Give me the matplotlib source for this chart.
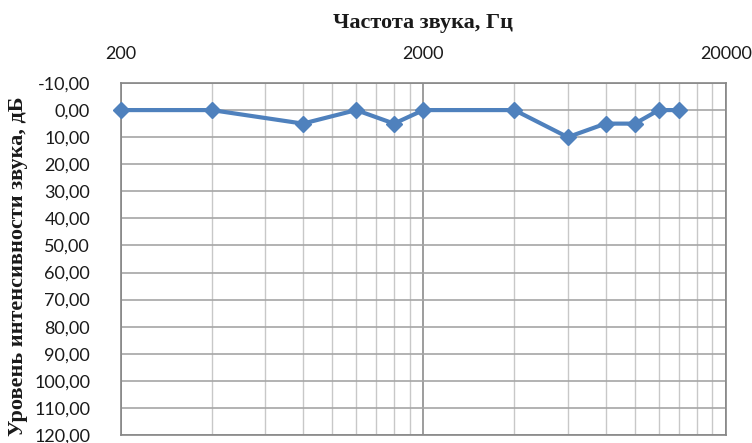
import matplotlib
matplotlib.use("Agg")
import matplotlib.pyplot as plt
from matplotlib.ticker import FixedLocator, FixedFormatter, NullFormatter

# Data
freqs = [200, 400, 800, 1200, 1600, 2000, 4000, 6000, 8000, 10000, 12000, 14000]
levels = [0, 0, 5, 0, 5, 0, 0, 10, 5, 5, 0, 0]
x_major = [200, 2000, 20000]
x_major_labels = ["200", "2000", "20000"]
x_minor = [400, 600, 800, 1000, 1200, 1400, 1600, 1800,
           4000, 6000, 8000, 10000, 12000, 14000, 16000, 18000]
y_ticks = list(range(-10, 121, 10))
y_labels = [f"{v:.2f}".replace(".", ",") for v in y_ticks]

fig = plt.figure(figsize=(7.52, 4.43), dpi=100)
ax = fig.add_axes([120.7 / 752, 8 / 443, (726 - 120.7) / 752, 352 / 443])

ax.set_xscale("log")
ax.set_xlim(200, 20000)
ax.set_ylim(120, -10)

ax.xaxis.set_major_locator(FixedLocator(x_major))
ax.xaxis.set_major_formatter(FixedFormatter(x_major_labels))
ax.xaxis.set_minor_locator(FixedLocator(x_minor))
ax.xaxis.set_minor_formatter(NullFormatter())
ax.xaxis.tick_top()

ax.set_yticks(y_ticks)
ax.set_yticklabels(y_labels)

ax.tick_params(axis="both", which="both", length=0)
ax.tick_params(axis="x", which="major", pad=15)
ax.tick_params(axis="y", which="major", pad=22)
for lab in ax.get_xticklabels() + ax.get_yticklabels():
    lab.set_fontfamily("Lato")
    lab.set_fontsize(13)
    lab.set_color("#1a1a1a")

ax.grid(True, axis="x", which="minor", color="#c8c8c8", linewidth=1.0)
ax.grid(True, axis="x", which="major", color="#8c8c8c", linewidth=1.2)
ax.grid(True, axis="y", which="major", color="#a6a6a6", linewidth=1.2)
ax.set_axisbelow(True)

for sp in ax.spines.values():
    sp.set_color("#868686")
    sp.set_linewidth(1.2)

ax.plot(freqs, levels, color="#4F81BD", linewidth=3.0, marker="D",
        markersize=8, markerfacecolor="#4F81BD", markeredgecolor="#4F81BD",
        clip_on=False, zorder=3)

fig.text((120.7 + 726) / 2 / 752, 1 - 23 / 443, "Частота звука, Гц",
         ha="center", va="center", fontfamily="Liberation Serif",
         fontweight="bold", fontsize=16, color="#1a1a1a")
fig.text(18 / 752, 1 - 266 / 443, "Уровень интенсивности звука, дБ",
         ha="center", va="center", rotation=90, fontfamily="Liberation Serif",
         fontweight="bold", fontsize=16, color="#1a1a1a")

fig.savefig("out.png", dpi=100, facecolor="white")
